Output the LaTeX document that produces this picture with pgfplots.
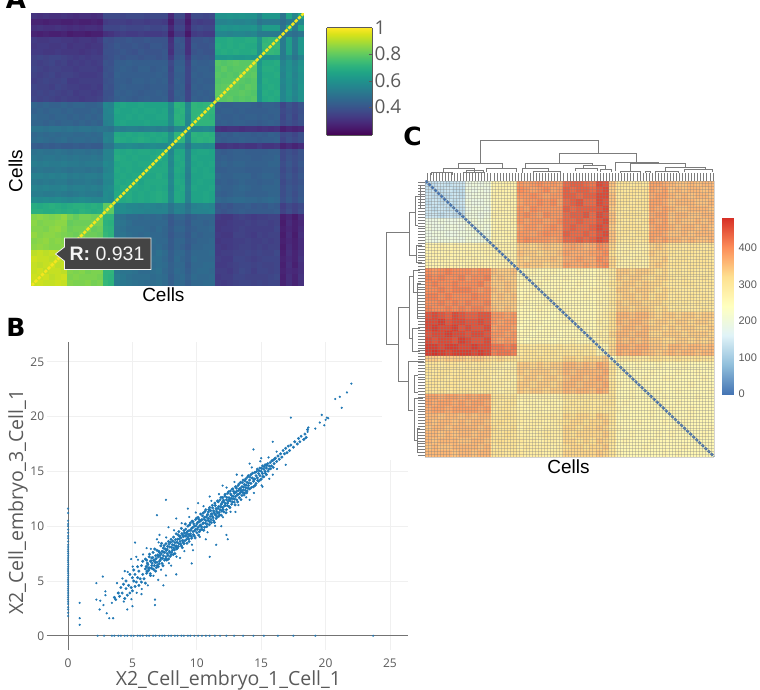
\documentclass[border=0pt]{standalone}
\usepackage{fontspec}
\setmainfont{Liberation Sans}
\newfontfamily\os{Open Sans}
\newfontfamily\letterfont{DejaVu Sans}
\usepackage{pgfplots}
\usepackage{pgfplotstable}
\pgfplotsset{compat=1.18}
\definecolor{sblue}{HTML}{1F77B4}
\definecolor{inkgray}{HTML}{5A5A5A}
\definecolor{dendro}{HTML}{7C7C7C}
% a heatmap cell: filled, no outline
\pgfdeclareplotmark{cellfill}{%
  \pgfpathrectangle{\pgfpoint{-\pgfplotmarksize}{-\pgfplotmarksize}}{\pgfpoint{2\pgfplotmarksize}{2\pgfplotmarksize}}%
  \pgfusepathqfill}
\pgfplotsset{
  colormap={rdylbu}{rgb255(0cm)=(69,117,180); rgb255(1cm)=(145,191,219); rgb255(2cm)=(224,243,248);
    rgb255(3cm)=(255,255,191); rgb255(4cm)=(254,224,144); rgb255(5cm)=(252,141,89); rgb255(6cm)=(215,48,39)},
  pane/.style={scale only axis, anchor=south west},
  cell/.style={scatter, only marks, mark=cellfill, scatter src=explicit, forget plot,
    scatter/use mapped color={draw=mapped color, fill=mapped color}},
}
\newcommand\fs[1]{\fontsize{#1}{#1}\selectfont}

\begin{document}
% panel A, row 0 at the bottom, percent
\pgfplotstableread[header=false]{
93 94 93 93 94 93 85 84 84 85 83 84 73 71 52 51 50 49 48 47 48 49 47 44 47 46 43 46 46 47 47 34 33 34 35 36 36 35 36 35 36 36 27 30 27 30
94 93 94 92 93 94 84 85 84 84 84 83 72 71 53 51 49 48 48 48 47 48 47 43 46 47 44 47 46 46 47 33 34 34 36 36 35 35 35 35 36 37 26 30 27 31
93 94 92 93 93 92 85 84 85 83 84 84 72 72 52 50 50 49 47 47 48 49 46 44 47 46 43 46 47 47 46 34 34 33 35 37 36 34 36 36 35 36 27 29 28 30
93 92 93 94 92 93 84 84 83 84 85 84 73 71 51 51 50 48 48 47 47 48 47 44 46 46 42 46 46 47 47 33 33 34 35 36 36 35 36 35 35 36 26 30 26 30
94 93 93 92 93 92 85 83 84 85 84 83 71 71 52 50 49 49 47 48 48 48 46 43 47 45 43 47 46 46 46 34 33 33 36 36 35 34 35 36 36 36 27 29 27 31
92 93 92 93 92 93 83 84 84 84 83 84 72 70 51 51 50 48 48 47 47 49 47 43 46 46 43 46 46 46 47 33 34 34 35 35 36 35 36 35 35 37 26 30 27 30
86 87 86 85 85 86 83 82 83 84 82 83 73 72 50 50 48 47 47 46 46 47 45 42 45 44 41 45 45 46 46 33 32 33 34 35 35 34 35 34 35 35 25 29 26 29
85 86 87 85 86 85 82 83 82 83 83 82 72 72 51 49 47 46 47 46 47 46 46 42 45 45 42 44 45 45 46 32 33 33 34 34 35 34 34 35 34 35 26 28 26 29
87 85 86 86 85 84 83 82 84 82 82 81 73 71 50 50 48 47 46 47 46 46 45 41 44 44 41 45 44 45 45 33 32 32 35 35 34 33 35 34 35 35 25 29 25 30
85 85 84 86 87 85 82 83 83 84 81 82 72 71 50 49 47 47 47 46 45 47 45 42 45 45 42 44 45 45 46 32 33 33 34 35 34 34 34 34 34 36 26 28 26 29
86 84 85 85 86 86 81 82 82 82 83 83 71 70 51 50 48 46 46 46 46 46 46 41 44 44 41 45 45 44 45 32 32 33 34 34 35 34 35 35 34 35 25 29 26 28
85 86 85 84 85 87 83 81 83 83 82 82 72 72 50 49 47 47 46 47 46 47 45 42 45 45 42 44 45 45 45 33 32 32 34 35 34 33 34 34 35 35 26 28 25 29
70 70 69 69 70 69 70 69 71 70 69 70 80 80 58 58 57 56 56 55 55 55 55 50 55 54 50 55 55 55 56 41 40 41 42 43 42 42 42 42 42 43 35 38 35 38
69 68 69 70 69 68 69 70 70 69 70 69 80 80 57 58 56 56 55 56 55 54 55 50 54 54 49 54 55 56 55 40 41 40 42 42 43 41 42 41 43 42 34 37 35 37
58 57 58 57 58 57 56 57 58 57 56 56 58 57 69 68 69 67 68 67 68 69 68 57 68 67 54 66 66 67 66 46 45 46 47 47 46 46 45 46 47 46 39 42 39 42
53 53 52 52 53 52 51 52 53 52 52 51 58 57 68 68 69 67 68 67 68 69 68 57 68 67 54 66 66 67 66 44 43 44 45 45 44 44 44 44 45 45 38 41 38 41
55 54 55 54 54 55 53 54 54 53 54 53 57 58 67 69 68 68 67 68 67 68 67 56 67 68 55 67 66 66 67 45 44 44 45 46 45 44 44 45 45 45 38 41 39 41
52 51 52 51 52 52 50 51 51 52 51 50 56 56 68 67 68 69 66 68 68 68 68 57 68 67 54 66 67 66 66 43 44 43 44 45 44 44 43 44 44 45 37 40 38 40
54 54 53 54 53 54 52 53 52 53 53 52 57 57 67 68 67 68 68 67 67 69 67 56 67 66 53 66 66 67 67 45 44 44 45 45 45 43 44 45 45 44 38 41 38 41
50 51 50 50 51 50 49 50 50 49 50 49 55 56 68 67 68 67 67 69 68 68 68 57 68 67 54 67 66 67 66 43 43 44 44 44 43 43 43 44 44 44 37 40 37 40
53 52 53 52 52 53 52 52 51 52 52 52 57 56 67 68 68 67 68 68 69 67 68 56 67 68 55 66 67 66 67 44 45 44 45 45 44 44 44 44 45 45 38 41 38 41
51 50 51 51 50 51 50 51 50 50 51 50 55 55 69 68 67 68 67 67 68 70 67 57 68 67 54 67 66 66 66 43 44 43 44 44 44 43 43 44 44 45 37 40 38 40
49 50 49 49 50 49 48 49 49 48 49 48 55 55 68 67 68 67 68 68 67 68 69 56 67 67 54 66 67 67 66 43 42 43 44 44 43 43 43 43 44 44 37 39 37 40
43 42 43 42 43 42 42 43 42 43 42 42 50 50 57 57 58 57 56 57 58 57 57 60 60 60 50 58 58 57 58 31 31 32 31 32 31 31 33 31 31 32 27 29 27 29
47 48 47 46 47 48 46 47 47 46 47 46 55 54 69 68 67 68 69 68 67 68 67 60 73 72 56 70 71 70 71 43 42 43 43 44 43 43 42 43 43 44 36 39 37 39
46 47 46 47 46 47 47 46 46 47 46 47 54 54 68 67 68 67 68 67 68 67 68 60 72 73 56 71 70 71 70 42 43 42 44 43 43 42 43 42 44 43 37 38 36 39
50 50 49 50 50 49 50 49 50 50 49 50 50 49 54 53 54 54 53 54 54 53 54 50 56 56 60 56 56 57 56 31 30 31 31 30 31 31 30 31 30 31 26 28 27 28
45 45 44 45 44 45 45 44 45 44 45 44 54 55 66 67 66 66 66 67 66 66 66 58 70 71 56 73 72 72 72 43 44 43 44 44 43 43 42 43 44 43 37 39 37 39
46 45 45 44 45 45 44 45 44 45 44 45 55 55 66 66 67 66 67 66 66 67 67 58 71 70 56 72 73 72 71 44 43 43 44 43 44 44 43 44 43 44 36 40 36 40
44 45 44 45 45 44 45 44 44 44 45 44 55 56 67 66 66 67 66 67 67 66 67 57 70 71 57 72 72 73 72 43 44 44 43 44 43 43 43 43 44 44 37 39 37 39
45 44 45 44 44 45 44 45 45 44 44 45 56 55 66 67 66 66 67 66 66 66 66 58 71 70 56 72 71 72 73 44 43 43 44 44 44 43 42 44 44 43 36 40 37 40
36 35 36 35 34 35 34 34 33 34 34 35 39 40 43 44 43 42 43 44 43 43 44 37 43 44 36 44 43 44 43 79 79 80 78 79 78 79 62 68 69 68 56 60 55 60
35 36 35 36 35 34 35 33 34 34 33 34 39 39 44 43 44 43 42 43 43 44 43 37 44 43 36 43 44 43 44 80 80 79 79 80 79 78 62 69 68 69 56 61 56 60
36 35 35 34 36 35 34 34 33 33 34 33 40 39 43 44 43 43 43 42 43 43 43 38 43 44 35 44 43 44 44 79 80 81 79 78 80 79 63 68 69 68 55 60 55 61
34 35 36 35 35 36 33 33 34 34 34 34 39 40 43 43 42 44 44 43 44 43 44 37 44 43 36 43 44 43 43 78 79 79 80 79 78 79 62 69 68 68 56 60 56 60
35 34 35 36 34 35 35 34 33 33 33 34 40 39 44 43 43 43 43 43 43 44 43 37 43 43 36 44 43 44 44 79 78 79 78 81 79 80 62 68 68 69 55 61 55 60
36 35 34 35 35 34 34 33 34 34 34 33 39 40 43 44 43 42 44 44 42 43 44 36 44 44 36 43 44 44 43 78 80 78 79 79 80 79 63 69 69 68 56 60 56 61
35 34 35 36 34 35 33 34 33 34 33 34 40 39 43 43 44 43 43 43 43 43 43 37 43 43 35 44 43 43 44 79 78 79 80 79 79 81 62 68 68 69 55 60 55 60
35 36 35 36 36 35 34 33 34 33 34 34 38 39 41 40 41 41 40 41 41 40 41 33 41 42 33 42 41 42 41 62 62 63 62 62 63 62 62 60 60 61 52 56 50 55
33 33 32 32 33 32 32 32 31 32 33 32 39 39 40 41 40 39 41 40 40 40 41 30 40 40 30 40 41 40 40 68 69 68 69 68 68 69 60 72 73 72 52 64 52 62
32 33 33 32 32 33 31 32 32 31 32 32 38 39 41 40 40 41 40 39 41 41 40 31 40 41 30 41 40 40 41 69 68 69 68 69 68 68 60 73 72 73 52 64 52 62
33 32 32 33 33 32 32 31 32 32 31 33 39 38 40 40 41 40 40 41 40 40 40 30 41 40 30 40 40 41 40 68 68 69 68 68 69 69 61 72 73 72 52 64 52 62
27 26 27 26 26 27 25 26 26 25 26 26 30 31 33 34 33 33 34 33 33 33 34 25 33 33 24 33 34 33 33 56 56 55 56 56 55 56 52 52 52 52 52 50 48 50
30 31 30 30 31 30 29 30 29 30 30 29 36 36 36 37 36 36 36 37 36 36 37 28 36 36 27 36 37 36 36 60 61 60 61 60 60 61 56 64 64 64 50 66 52 66
27 27 26 27 27 26 26 27 26 26 27 26 33 34 34 34 33 34 34 33 34 34 33 25 34 34 25 34 33 34 34 55 55 56 55 55 56 55 50 52 52 52 48 52 52 56
31 30 31 30 30 31 30 29 30 30 29 30 37 37 37 36 37 37 37 36 37 37 37 28 37 37 27 37 37 36 37 60 60 61 60 61 60 60 55 62 62 62 50 66 56 66
}\Amat
% panel C, row 0 at the top, tens of units
\pgfplotstableread[header=false]{
13 13 14 13 14 14 19 20 19 20 27 27 28 27 39 38 39 40 39 39 38 43 44 44 43 42 46 45 35 31 31 30 31 30 38 38 37 36 35 35 36 35 36 36
13 14 13 14 13 13 20 19 20 19 27 28 27 27 40 39 38 39 40 38 39 44 43 44 44 43 45 46 34 31 30 31 31 31 38 37 38 35 36 35 36 36 35 36
14 13 13 13 14 13 19 20 20 20 28 27 27 28 39 39 40 39 38 39 39 44 44 43 44 44 46 46 35 30 31 31 30 31 37 38 38 36 35 36 35 36 36 35
13 14 13 14 13 14 20 19 19 20 27 27 28 27 38 39 39 40 39 40 38 43 44 45 43 43 46 45 35 31 31 30 31 31 38 38 37 35 36 36 36 35 35 36
14 13 14 13 14 13 19 20 20 19 27 28 27 28 39 38 40 39 39 39 39 44 43 44 44 44 45 46 34 31 30 31 30 31 38 37 38 36 35 35 36 36 36 35
14 14 13 14 13 13 20 20 19 20 28 27 27 27 39 40 39 38 40 39 39 43 44 44 45 43 46 45 35 30 31 31 31 30 37 38 38 35 36 36 35 35 36 36
19 19 20 19 19 20 20 21 20 21 27 27 27 28 39 38 39 39 38 39 40 43 43 44 43 43 45 46 35 31 30 31 30 31 38 37 38 35 36 35 35 36 35 36
20 19 19 20 20 19 21 20 21 20 27 28 27 27 38 39 39 38 39 40 39 43 44 43 43 44 46 45 34 30 31 31 31 30 37 38 38 36 35 36 36 35 36 35
19 20 20 19 19 20 20 21 20 20 28 27 28 27 39 39 38 39 40 39 39 44 43 43 44 43 45 46 35 31 31 30 31 31 38 38 37 35 35 36 35 36 36 36
20 19 20 20 20 19 21 20 20 21 28 27 27 28 39 40 39 39 39 38 39 43 43 44 43 44 46 45 35 31 30 31 30 31 38 37 38 36 36 35 36 35 35 36
27 27 28 27 28 27 27 27 28 28 27 28 28 27 34 34 33 34 35 34 34 37 38 37 36 37 40 39 33 28 28 29 28 28 33 34 33 31 31 30 31 31 30 31
27 28 27 28 27 27 28 27 27 28 28 27 27 28 35 34 34 33 34 34 35 38 37 37 37 38 39 40 32 28 29 28 28 29 34 33 33 31 30 31 31 30 31 31
28 27 28 27 27 28 27 28 27 27 28 27 28 28 34 33 34 34 34 35 34 37 37 38 37 37 40 39 33 29 28 28 29 28 33 33 34 30 31 31 30 31 31 30
27 27 27 28 28 27 28 28 28 27 27 28 28 27 34 35 34 34 33 34 34 38 37 37 38 37 39 40 33 28 28 29 28 28 33 34 33 31 31 30 31 31 31 31
40 39 40 41 40 40 40 39 40 40 35 34 34 35 26 26 27 26 26 27 26 26 26 27 26 26 27 28 30 34 34 33 34 34 33 32 33 30 31 30 31 30 30 31
41 40 41 40 40 41 39 40 40 41 34 35 34 34 26 27 26 26 27 26 26 27 26 26 26 26 28 27 30 34 33 34 34 33 32 33 33 31 30 31 30 30 31 30
40 41 40 40 41 40 40 40 41 39 34 34 35 34 27 26 26 27 26 26 26 26 26 27 26 26 27 28 31 33 34 34 33 34 33 33 32 30 30 31 31 30 30 31
40 40 41 40 41 41 41 40 39 40 35 34 35 34 26 26 27 26 26 26 27 26 27 26 26 27 28 27 30 34 34 33 34 34 33 32 33 31 30 30 30 31 30 30
41 41 40 41 40 40 40 41 40 40 34 35 34 35 26 27 26 26 26 27 26 26 26 26 27 26 27 28 30 33 34 34 33 34 32 33 33 30 31 30 31 30 31 30
40 40 41 40 41 40 41 40 40 41 34 34 34 34 27 26 26 26 27 26 26 26 26 26 26 26 28 27 31 34 33 34 34 33 33 33 32 31 30 31 30 31 30 31
41 40 40 41 40 41 40 41 41 40 35 34 35 34 26 26 26 27 26 26 26 27 26 26 26 26 27 28 30 34 34 33 34 34 33 32 33 30 31 30 30 30 31 30
45 46 45 44 46 45 44 44 45 45 39 39 38 39 26 26 25 26 26 25 26 26 27 26 26 26 28 29 32 36 36 35 36 36 34 33 34 34 33 34 34 33 34 34
46 46 47 45 46 46 45 45 46 45 39 38 39 39 26 25 26 26 25 26 26 27 26 26 27 26 29 28 32 36 35 36 36 35 33 34 34 33 34 34 33 34 34 33
46 47 46 46 47 45 46 45 45 46 38 39 39 38 25 26 26 25 26 26 26 26 26 27 26 26 28 29 32 35 36 36 35 36 34 34 33 34 33 34 34 33 33 34
45 46 46 47 46 46 45 46 46 45 39 39 38 39 26 26 25 26 26 26 25 26 26 26 26 27 29 28 33 36 36 35 36 36 33 33 34 34 34 33 34 34 34 33
46 45 46 46 45 47 46 45 45 46 39 38 39 39 26 25 26 26 26 25 26 26 27 26 26 26 28 29 32 36 35 36 35 36 34 34 33 33 34 34 33 34 33 34
47 47 46 47 47 46 46 47 46 46 42 42 41 42 31 31 30 31 31 30 31 30 31 30 31 30 27 27 33 37 37 36 37 37 35 35 34 36 36 35 36 36 35 36
47 48 47 46 47 47 47 46 47 46 41 42 42 41 30 31 31 30 31 31 30 31 30 31 30 31 27 27 33 37 36 37 37 36 35 34 35 36 35 36 36 35 36 36
34 34 33 34 34 34 33 34 34 33 32 33 32 32 31 31 31 32 31 31 31 33 33 32 33 33 33 34 24 30 30 31 30 30 32 32 31 31 32 31 31 32 31 31
31 31 30 31 31 30 31 30 31 31 29 29 28 29 34 34 33 34 33 34 34 36 36 35 36 35 37 36 31 26 26 26 27 26 26 27 26 26 26 27 26 26 26 27
31 30 31 31 30 31 30 31 31 30 29 28 29 29 34 33 34 34 34 33 34 36 35 36 36 36 36 37 31 26 27 26 26 26 27 26 26 26 27 26 26 27 26 26
30 31 31 30 31 31 31 31 30 31 28 29 29 28 33 34 34 33 34 34 33 35 36 36 35 36 37 36 30 26 26 26 26 27 26 26 27 27 26 26 26 26 27 26
31 31 30 31 31 30 30 31 31 31 29 29 28 29 34 34 33 34 34 33 34 36 36 35 36 36 36 37 31 27 26 26 26 26 26 26 26 26 26 26 27 26 26 26
31 30 31 30 31 31 31 30 30 31 29 28 29 29 34 33 34 34 33 34 34 36 35 36 36 35 37 36 31 26 26 27 26 26 26 27 26 26 27 26 26 26 26 27
38 38 37 38 38 37 38 37 38 38 31 31 30 31 28 28 27 28 28 27 28 31 30 31 30 31 31 30 31 26 26 27 26 26 26 26 27 26 26 26 26 27 26 26
38 37 38 38 37 38 37 38 38 37 31 30 31 31 27 28 28 27 28 28 27 30 31 30 31 30 30 31 31 26 27 26 26 26 26 27 26 26 27 26 26 26 26 26
37 38 38 37 38 38 38 38 37 38 30 31 31 30 28 27 28 28 27 28 28 31 30 31 31 30 31 30 30 27 26 26 26 26 27 26 26 27 26 26 27 26 26 26
36 36 35 36 36 35 36 35 36 36 31 31 32 31 29 29 28 29 29 30 29 33 32 33 33 32 34 33 31 26 27 26 26 26 27 26 26 26 26 26 27 26 26 26
36 35 36 36 35 36 35 36 36 35 31 32 31 31 29 28 29 29 28 29 30 32 33 33 32 33 33 34 31 26 26 26 27 26 26 26 27 26 26 27 26 26 26 26
35 36 36 35 36 36 36 36 35 36 32 31 31 32 28 29 29 28 29 29 29 33 33 32 33 33 34 33 30 27 26 26 26 26 26 26 26 26 27 26 26 26 26 27
36 36 35 36 35 36 36 35 36 36 31 31 32 31 29 29 28 29 30 29 29 33 32 33 33 33 33 34 31 26 26 27 26 26 26 27 26 27 26 26 26 26 27 26
36 35 36 36 36 35 35 36 36 35 31 32 31 31 30 29 29 28 29 29 28 33 33 32 33 32 34 33 31 26 27 26 26 26 27 26 26 26 26 26 26 27 26 26
35 36 35 35 36 36 36 36 35 36 30 31 31 31 29 30 29 29 29 28 29 32 33 33 32 33 33 34 30 26 26 26 26 27 26 26 26 26 26 27 26 26 26 26
36 36 36 36 35 36 36 35 36 36 31 31 30 31 30 29 29 29 28 29 29 33 33 33 33 33 34 33 31 27 26 26 26 26 26 26 27 26 27 26 26 26 26 26
}\Cmat

\begin{tikzpicture}
\path[use as bounding box] (0pt,0pt) rectangle (760pt,-689pt);

% ---- A
\begin{axis}[pane, at={(31.5pt,-285.5pt)}, width=272.5pt, height=272.5pt, clip mode=individual,
  xmin=0, xmax=46, ymin=0, ymax=46, colormap/viridis, point meta min=19, point meta max=100,
  axis line style={draw=none}, xtick=\empty,
  ytick={0.17,4.29,8.4,12.52,16.63,20.75,24.87,28.98,33.1,37.21,41.33}, yticklabels={},
  ytick pos=left, y tick style={gray}, major tick length=1.5pt,
  xlabel={Cells}, ylabel={Cells},
  xlabel style={font=\fs{19}, at={(axis description cs:0.484,-0.035)}, anchor=center},
  ylabel style={font=\fs{19}, at={(axis description cs:-0.0586,0.42)}, anchor=center},
]
\pgfplotsinvokeforeach{0,...,45}{
  \addplot[cell, mark size=3.04]
    table[x expr=#1+0.5, y expr=\coordindex+0.5, meta index=#1] {\Amat};
}
\addplot[color={rgb,255:red,244;green,230;blue,30}, line width=2.6pt, dash pattern=on 3.3pt off 1.3pt, forget plot]
  coordinates {(0,0) (46,46)};
\end{axis}

% colour scale of A
\begin{axis}[pane, at={(326.5pt,-135pt)}, width=45.5pt, height=107.5pt, view={0}{90},
  xmin=0, xmax=1, ymin=0.19, ymax=1, colormap/viridis, point meta min=0.19, point meta max=1,
  xtick=\empty, ytick={0.4,0.6,0.8,1}, ytick pos=right, yticklabel pos=right,
  axis line style={draw=inkgray, line width=0.7pt}, y tick style={inkgray}, major tick length=3.5pt,
  /pgf/number format/assume math mode=true,
  yticklabel style={font=\os\fs{19}, text=inkgray, xshift=-1pt},
]
\addplot3[surf, shader=interp, point meta=y, mesh/rows=2, forget plot]
  coordinates {(0,0.19,0) (1,0.19,0) (0,1,0) (1,1,0)};
\end{axis}

% ---- B
\begin{axis}[pane, at={(46.7pt,-650pt)}, width=361.3pt, height=308pt, name=scat,
  xmin=-1.66, xmax=26.4, ymin=-1.3, ymax=26.8,
  axis line style={draw=none}, major tick length=0pt,
  xtick={0,5,10,15,20,25}, ytick={0,5,10,15,20,25}, grid=major,
  grid style={color={rgb,255:red,240;green,240;blue,240}, line width=0.8pt},
  /pgf/number format/assume math mode=true,
  tick label style={font=\os\fs{12}, text=inkgray},
  xticklabel style={yshift=-5pt}, yticklabel style={xshift=1pt},
  xlabel={X2\_Cell\_embryo\_1\_Cell\_1}, ylabel={X2\_Cell\_embryo\_3\_Cell\_1},
  xlabel style={font=\os\fs{19.5}, text=inkgray, at={(axis description cs:0.503,-0.0974)}, anchor=center},
  ylabel style={font=\os\fs{19.5}, text=inkgray, at={(axis description cs:-0.0794,0.48)}, anchor=center},
]
\addplot[draw=gray!90!black, line width=1.1pt, forget plot] coordinates {(0,-1.3) (0,26.8)};
\addplot[draw=gray!90!black, line width=1.3pt, forget plot] coordinates {(-1.66,0) (26.4,0)};
% expressed in one embryo only
\addplot[only marks, mark=*, mark size=0.95pt, color=sblue, opacity=0.7, mark options={draw=none}, forget plot] coordinates {
(0,1.8)(0,2.1)(0,2.4)(0,2.6)(0,2.9)(0,3.1)(0,3.3)(0,3.5)(0,3.7)(0,3.9)(0,4.1)(0,4.3)(0,4.5)(0,4.7)(0,4.9)(0,5.1)
(0,5.3)(0,5.5)(0,5.7)(0,5.9)(0,6.1)(0,6.3)(0,6.5)(0,6.7)(0,6.9)(0,7.1)(0,7.3)(0,7.5)(0,7.7)(0,7.9)(0,8.1)(0,8.3)
(0,8.6)(0,8.9)(0,9.1)(0,9.4)(0,9.7)(0,10.0)(0,10.2)(0,10.5)(0,11.2)(0,11.6)
(2.3,0)(2.8,0)(3.4,0)(3.6,0)(3.9,0)(4.1,0)(4.4,0)(4.6,0)(4.9,0)(5.1,0)(5.4,0)(5.6,0)(5.8,0)(6.1,0)(6.3,0)(6.6,0)
(6.8,0)(7.1,0)(7.3,0)(7.5,0)(7.8,0)(8.0,0)(8.3,0)(8.5,0)(8.8,0)(9.0,0)(9.3,0)(9.5,0)(9.8,0)(10.1,0)(10.4,0)(10.7,0)
(11.0,0)(11.4,0)(11.8,0)(12.3,0)(12.9,0)(13.6,0)(14.4,0)(15.2,0)(16.3,0)(17.5,0)(19.2,0)(23.7,0)
};
% main cloud
\addplot[only marks, mark=*, mark size=1.3pt, color=sblue, mark options={draw=none}, forget plot] coordinates {
(3.6,3.5)(3.7,3.3)(3.9,3.9)(4.0,3.6)(4.1,4.4)(4.2,3.9)(4.3,4.7)(4.4,3.4)(4.5,4.3)(4.5,5.0)(4.6,3.7)(4.7,4.6)
(4.8,5.6)(4.8,3.9)(4.9,4.4)(5.0,5.3)(5.0,4.1)(5.1,6.0)(5.1,5.0)(5.2,4.5)(5.2,5.6)(5.3,4.9)(5.4,6.3)(5.4,5.3)
(5.5,4.6)(5.5,5.9)(5.6,5.2)(5.7,6.4)(5.7,4.9)(5.8,5.6)(5.8,6.8)(5.9,5.2)(6.0,6.1)(6.0,4.8)(6.0,7.0)
(6.1,6.9)(6.1,5.7)(6.2,6.5)(6.2,5.9)(6.3,7.2)(6.3,6.2)(6.4,6.8)(6.4,5.5)(6.5,7.1)(6.5,6.4)
(6.6,6.1)(6.6,7.6)(6.7,6.9)(6.7,6.4)(6.8,7.3)(6.8,5.9)(6.9,6.7)(6.9,7.8)(7.0,7.2)(7.0,6.3)
(7.1,7.6)(7.1,6.8)(7.2,8.2)(7.2,7.1)(7.3,6.6)(7.3,7.7)(7.4,7.3)(7.4,8.0)(7.5,6.9)(7.5,7.6)
(7.6,8.4)(7.6,7.2)(7.7,7.9)(7.7,7.5)(7.8,8.6)(7.8,7.0)(7.9,8.1)(7.9,7.6)(8.0,8.8)(8.0,7.4)
(8.1,8.3)(8.1,7.8)(8.2,9.0)(8.2,8.0)(8.3,8.5)(8.3,7.5)(8.4,9.3)(8.4,8.2)(8.5,8.8)(8.5,8.0)
(8.6,9.5)(8.6,8.4)(8.7,9.1)(8.7,8.6)(8.8,9.8)(8.8,8.2)(8.9,9.2)(8.9,8.7)(9.0,9.6)(9.0,8.4)
(9.1,9.1)(9.1,10.2)(9.2,9.4)(9.2,8.8)(9.3,10.0)(9.3,9.0)(9.4,9.6)(9.4,8.6)(9.5,10.3)(9.5,9.3)
(9.6,9.8)(9.6,8.9)(9.7,10.4)(9.7,9.5)(9.8,10.0)(9.8,9.1)(9.9,10.6)(9.9,9.7)(10.0,10.2)(10.0,9.4)
(10.1,10.8)(10.1,9.9)(10.2,10.4)(10.2,9.5)(10.3,11.1)(10.3,10.1)(10.4,10.6)(10.4,9.7)(10.5,11.2)(10.5,10.3)
(10.6,10.8)(10.6,9.9)(10.7,11.5)(10.7,10.5)(10.8,11.0)(10.8,10.2)(10.9,11.3)(10.9,10.7)(11.0,11.7)(11.0,10.4)
(11.1,11.1)(11.1,10.6)(11.2,11.9)(11.2,10.9)(11.3,11.4)(11.3,10.5)(11.4,12.1)(11.4,11.1)(11.5,11.6)(11.5,10.7)
(11.6,12.3)(11.6,11.2)(11.7,11.8)(11.7,10.9)(11.8,12.4)(11.8,11.5)(11.9,12.0)(11.9,11.0)(12.0,12.6)(12.0,11.7)
(12.1,12.2)(12.1,11.3)(12.2,12.9)(12.2,11.9)(12.3,12.4)(12.3,11.5)(12.4,13.0)(12.4,12.1)(12.5,12.6)(12.5,11.8)
(12.6,13.2)(12.6,12.3)(12.7,12.8)(12.7,12.0)(12.8,13.4)(12.8,12.5)(12.9,13.0)(12.9,12.2)(13.0,13.6)(13.0,12.7)
(13.1,13.2)(13.1,12.4)(13.2,13.7)(13.2,12.9)(13.3,13.4)(13.3,12.6)(13.4,14.0)(13.4,13.1)(13.5,13.6)(13.5,12.8)
(13.6,14.2)(13.6,13.3)(13.7,13.8)(13.7,13.0)(13.8,14.3)(13.8,13.5)(13.9,14.0)(13.9,13.2)(14.0,14.6)(14.0,13.7)
(14.1,14.2)(14.1,13.4)(14.2,14.7)(14.2,13.9)(14.3,14.4)(14.4,14.1)(14.4,13.6)(14.5,14.9)(14.5,14.3)(14.6,14.6)
(14.6,13.9)(14.7,15.2)(14.7,14.4)(14.8,14.8)(14.8,14.1)(14.9,15.3)(14.9,14.6)(15.0,15.0)(15.0,14.3)(15.1,15.5)
(15.1,14.8)(15.2,15.2)(15.2,14.5)(15.3,15.6)(15.3,15.0)(15.4,15.3)(15.4,14.7)(15.5,15.7)(15.6,15.2)(15.7,15.8)
(15.8,15.5)(15.9,16.0)(16.0,15.7)(16.1,16.2)(16.2,15.9)(16.3,16.4)(16.4,16.1)(16.5,16.6)(16.6,16.3)(16.7,16.9)
(16.8,16.6)(16.9,17.1)(17.0,16.7)(17.1,17.3)(17.2,16.9)(17.3,17.4)(17.5,17.2)(17.6,17.7)(17.8,17.5)(17.9,18.0)
(18.0,17.7)(18.1,18.2)(18.3,17.9)(18.4,18.4)(18.5,18.1)(18.6,18.8)
(6.07,6.32)(6.13,5.88)(6.16,6.63)(6.24,6.18)(6.27,6.01)(6.33,7.44)(6.38,5.67)(6.44,6.83)(6.47,6.17)(6.53,6.62)
(6.58,7.13)(6.64,6.87)(6.66,6.03)(6.73,7.91)(6.77,6.68)(6.84,7.04)(6.86,6.22)(6.93,6.43)(6.96,7.37)(7.04,7.72)
(7.07,6.56)(7.13,7.32)(7.17,6.92)(7.24,7.47)(7.26,8.43)(7.34,7.07)(7.37,6.39)(7.43,7.64)(7.46,8.22)(7.54,7.93)
(7.57,7.02)(7.63,7.78)(7.66,6.91)(7.73,8.16)(7.76,7.33)(7.84,8.36)(7.87,7.71)(7.93,7.24)(7.97,8.52)(8.04,8.07)
(8.06,7.62)(8.13,8.64)(8.17,7.41)(8.24,8.27)(8.26,7.83)(8.34,8.77)(8.37,8.11)(8.43,7.93)(8.46,8.53)(8.54,9.21)
(8.57,8.16)(8.63,8.82)(8.66,9.06)(8.74,8.36)(8.77,8.93)(8.84,9.33)(8.87,8.04)(8.93,8.53)(8.96,9.04)(9.04,9.37)
(9.07,8.67)(9.14,9.73)(9.17,9.16)(9.23,8.44)(9.27,9.52)(9.33,9.26)(9.37,8.83)(9.44,10.12)(9.46,9.13)(9.53,9.63)
(9.57,9.07)(9.64,10.46)(9.67,9.87)(9.73,9.23)(9.76,10.21)(9.84,9.58)(9.87,8.92)(9.93,10.02)(9.97,10.72)(10.03,9.72)
(10.07,10.33)(10.14,9.18)(10.17,10.61)(10.23,10.02)(10.26,9.67)(10.33,10.51)(10.37,9.93)(10.44,10.94)(10.47,10.22)(10.54,9.62)
(10.57,10.63)(10.63,11.33)(10.67,10.27)(10.74,10.83)(10.77,9.97)(10.84,11.08)(10.87,10.52)(10.93,11.51)(10.97,10.13)(11.03,10.88)
(11.07,11.42)(11.13,10.31)(11.17,11.13)(11.23,11.67)(11.26,10.77)(11.34,11.23)(11.37,10.34)(11.43,11.88)(11.47,11.02)(11.53,11.37)
(11.57,10.86)(11.64,11.62)(11.67,12.22)(11.73,11.26)(11.77,11.04)(11.84,11.77)(11.87,12.62)(11.93,11.38)(11.97,12.17)(12.03,11.52)
(12.07,12.36)(12.14,11.84)(12.17,12.74)(12.23,12.08)(12.27,11.22)(12.33,12.62)(12.37,11.87)(12.43,12.27)(12.47,13.14)(12.53,12.42)
(12.57,11.69)(12.63,12.93)(12.67,12.53)(12.74,13.37)(12.77,12.21)(12.83,12.72)(12.87,13.16)(12.93,12.47)(12.97,11.94)(13.03,13.08)
(13.07,13.47)(13.13,12.83)(13.17,12.21)(13.23,13.26)(13.27,13.84)(13.33,12.97)(13.37,13.43)(13.43,12.42)(13.47,13.23)(13.53,13.97)
(13.57,13.07)(13.63,13.57)(13.67,12.84)(13.73,14.13)(13.77,13.26)(13.83,13.74)(13.87,13.04)(13.93,14.47)(13.97,13.46)(14.03,13.93)
(14.13,14.47)(14.23,13.52)(14.33,14.83)(14.43,14.27)(14.53,13.72)(14.63,14.97)(14.73,14.16)(14.83,15.06)(14.93,14.23)(15.03,15.27)
(15.13,14.53)(15.23,15.42)(15.33,14.82)(15.43,15.53)(15.53,15.02)(15.63,15.48)(15.73,15.24)(15.83,15.97)(15.93,15.37)(16.03,16.12)
};
% stragglers
\addplot[only marks, mark=*, mark size=0.9pt, color=sblue, mark options={draw=none}, forget plot] coordinates {
(22.0,23.0)(21.66,22.2)(21.1,21.8)(20.75,21.6)(21.25,20.8)(19.7,20.15)(17.3,19.9)(20.2,19.85)(20.0,19.7)(20.1,19.9)
(19.9,19.2)(19.55,19.45)(19.2,18.9)(18.66,19.0)(18.6,18.6)(18.4,18.0)(15.9,17.7)(14.4,17.0)(16.2,16.8)(15.0,16.2)
(7.6,12.4)(6.9,11.0)(5.2,8.5)(11.0,7.2)(9.6,6.6)(12.3,9.2)(12.4,8.8)(11.5,8.3)(0.9,3.0)(0.9,1.6)(0.9,1.0)
(2.2,4.8)(2.7,5.4)(2.2,3.3)(2.5,3.2)(2.9,4.05)(2.9,3.7)(2.45,2.4)(2.75,2.8)(3.0,2.05)(3.2,1.6)(3.5,1.6)(3.4,3.0)
(3.8,4.8)(3.9,3.9)(6.75,3.3)(6.75,2.8)(7.4,4.6)(8.4,5.6)(4.6,2.4)(5.0,2.7)(4.4,5.9)(4.9,7.0)(5.3,7.2)(6.1,8.0)(6.9,8.8)
(7.1,9.2)(7.8,9.9)(8.4,10.7)(9.3,11.6)(10.1,12.1)(11.0,12.7)(12.0,13.7)(13.1,14.7)(14.1,15.7)(8.0,6.4)(8.7,7.1)
(9.7,7.8)(10.7,8.8)(11.9,10.0)(13.0,11.3)(14.1,12.4)(15.1,13.6)(15.9,14.7)(16.9,15.6)(5.7,3.8)(6.2,4.6)(7.0,5.1)(7.6,5.5)
(6.43,7.93)(7.03,8.52)(7.62,8.97)(8.23,9.62)(8.82,10.27)(9.41,10.83)(9.92,11.24)(10.52,11.82)(11.13,12.31)(11.72,12.92)
(12.31,13.52)(12.92,14.03)(13.52,14.62)(14.27,15.36)(14.93,15.92)(15.57,16.27)(6.63,5.47)(7.22,6.03)(7.83,6.62)(8.42,7.22)
(9.03,7.72)(9.62,8.31)(10.23,9.02)(10.83,9.44)(11.42,10.03)(12.03,10.82)(12.62,11.31)(13.23,11.92)(13.83,12.63)(14.43,13.03)
(15.03,13.72)(15.63,14.32)(16.23,15.22)(4.22,5.23)(4.63,5.82)(5.02,6.31)(5.43,6.93)(5.82,7.42)(4.33,3.12)(4.92,3.34)(5.33,3.92)(5.72,4.27)
};
\end{axis}
\fill[white] (382pt,-325pt) rectangle (760pt,-460pt);

% ---- C
\begin{axis}[pane, at={(425.3pt,-456.7pt)}, width=289pt, height=276pt, clip mode=individual,
  xmin=0, xmax=44, ymin=0, ymax=44, y dir=reverse,
  colormap name=rdylbu, point meta min=0, point meta max=48,
  axis line style={draw=none}, major tick length=0pt, axis on top,
  xtick={0,0.46316,...,44}, ytick={0,0.46316,...,44}, xticklabels={}, yticklabels={},
  grid=major, grid style={color=gray, opacity=0.35, line width=0.3pt},
  xlabel={Cells},
  xlabel style={font=\fs{19}, at={(axis description cs:0.4955,-0.036)}, anchor=center},
]
\pgfplotsinvokeforeach{0,...,43}{
  \addplot[cell, mark size=3.35]
    table[x expr=#1+0.5, y expr=\coordindex+0.5, meta index=#1] {\Cmat};
}
\addplot[color={rgb,255:red,69;green,117;blue,180}, line width=2.5pt, dash pattern=on 3pt off 1.2pt, forget plot]
  coordinates {(0,0) (44,44)};
\end{axis}

% colour scale of C
\begin{axis}[pane, at={(721.7pt,-394pt)}, width=11.3pt, height=176.3pt, view={0}{90},
  xmin=0, xmax=1, ymin=0, ymax=482, colormap name=rdylbu, point meta min=0, point meta max=482,
  xtick=\empty, ytick={0,100,200,300,400}, ytick pos=right, yticklabel pos=right,
  axis line style={draw=none}, major tick length=0pt,
  /pgf/number format/assume math mode=true,
  yticklabel style={font=\fs{11}, text=inkgray, xshift=2pt},
]
\addplot3[surf, shader=interp, point meta=y, mesh/rows=2, forget plot]
  coordinates {(0,0,0) (1,0,0) (0,482,0) (1,482,0)};
\end{axis}

% leaves of the two trees
\begin{axis}[pane, at={(425.3pt,-180.7pt)}, width=289pt, height=8pt, xmin=0, xmax=95, ymin=0, ymax=1,
  axis line style={draw=none}, major tick length=0pt, ytick=\empty, xtick={0.5,1.5,...,94.5}, xticklabels={},
  xmajorgrids, grid style={color=dendro, line width=0.45pt}]
\end{axis}
\begin{axis}[pane, at={(418pt,-456.7pt)}, width=7.3pt, height=276pt, xmin=0, xmax=1, ymin=0, ymax=95,
  axis line style={draw=none}, major tick length=0pt, xtick=\empty, ytick={0.5,1.5,...,94.5}, yticklabels={},
  ymajorgrids, grid style={color=dendro, line width=0.45pt}]
\end{axis}

% branches of the two trees, in picture pixels
\begin{axis}[pane, at={(0pt,-689pt)}, width=760pt, height=689pt, xmin=0, xmax=760, ymin=0, ymax=689,
  y dir=reverse, hide axis, clip=false]
\addplot[dendro, line width=0.65pt, forget plot, unbounded coords=jump] coordinates {
(480.3,163.3)(480.3,140.3)(598,140.3)(598,153.3)(nan,nan)
(559,163.3)(559,153.3)(636.7,153.3)(636.7,162.5)(nan,nan)
(458.3,168.3)(458.3,163.3)(502.3,163.3)(502.3,168.3)(nan,nan)
(443.5,172.5)(443.5,168.3)(474,168.3)(474,172.5)(nan,nan)
(431,175)(431,172.5)(452,172.5)(452,175)(nan,nan)
(463,175)(463,172.5)(484,172.5)(484,175)(nan,nan)
(486,172)(486,168.3)(516,168.3)(516,172)(nan,nan)
(466,172)(466,170.7)(483,170.7)(483,173)(nan,nan)
(525.7,168)(525.7,163.3)(592.7,163.3)(592.7,165.5)(nan,nan)
(522,173)(522,168)(548,168)(548,172)(nan,nan)
(533,173)(533,171.7)(560,171.7)(560,173)(nan,nan)
(583,168)(583,165.5)(605,165.5)(605,169)(nan,nan)
(575,171)(575,168)(597,168)(597,171)(nan,nan)
(600,172)(600,169)(611,169)(611,172)(nan,nan)
(615,171)(615,162.5)(658.3,162.5)(658.3,163.5)(nan,nan)
(630,171)(630,163.5)(685,163.5)(685,167.7)(nan,nan)
(620,172.5)(620,171)(640,171)(640,173)(nan,nan)
(645,173)(645,171)(650,171)(650,173)(nan,nan)
(665,172)(665,167.7)(705,167.7)(705,169.5)(nan,nan)
(655,173)(655,171)(678,171)(678,173)(nan,nan)
(684,172)(684,169.5)(712,169.5)(712,172)(nan,nan)
(409.3,232.3)(386,232.3)(386,344.3)(398.3,344.3)(nan,nan)
(415,212.3)(409.3,212.3)(409.3,255)(416,255)(nan,nan)
(420,196.7)(415,196.7)(415,225)(418,225)(nan,nan)
(424,185)(420,185)(420,208)(424,208)(nan,nan)
(422,245)(416,245)(416,262)(422,262)(nan,nan)
(409.3,307.7)(398.3,307.7)(398.3,381)(408.3,381)(nan,nan)
(413.3,276.7)(409.3,276.7)(409.3,338.3)(412.3,338.3)(nan,nan)
(420,270)(413.3,270)(413.3,292)(418,292)(nan,nan)
(421,283)(417,283)(417,318)(421,318)(nan,nan)
(420,328)(412.3,328)(412.3,351)(420,351)(nan,nan)
(424,361.7)(408.3,361.7)(408.3,410)(413,410)(nan,nan)
(418,375)(414,375)(414,392)(418,392)(nan,nan)
(423,398)(414.5,398)(414.5,440)(417,440)(nan,nan)
(420,428)(417,428)(417,452)(420,452)
};
\end{axis}

% hover box of A
\fill[color={rgb,255:red,68;green,68;blue,68}, draw=white!90!gray, line width=0.8pt]
  (64.5pt,-238pt) -- (151pt,-238pt) -- (151pt,-269.5pt) -- (64.5pt,-269.5pt) -- (64.5pt,-261pt) -- (55.5pt,-254pt) -- (64.5pt,-247pt) -- cycle;
\node[text=white!92!gray, font=\fs{19.5}, anchor=center] at (107pt,-254pt) {\textbf{R:} 0.931};

% panel letters
\node[font=\letterfont\bfseries\fs{26}, anchor=base] at (16pt,-8pt) {A};
\node[font=\letterfont\bfseries\fs{25}, anchor=base] at (16pt,-336pt) {B};
\node[font=\letterfont\bfseries\fs{25}, anchor=base] at (412.5pt,-145pt) {C};
\end{tikzpicture}
\end{document}
